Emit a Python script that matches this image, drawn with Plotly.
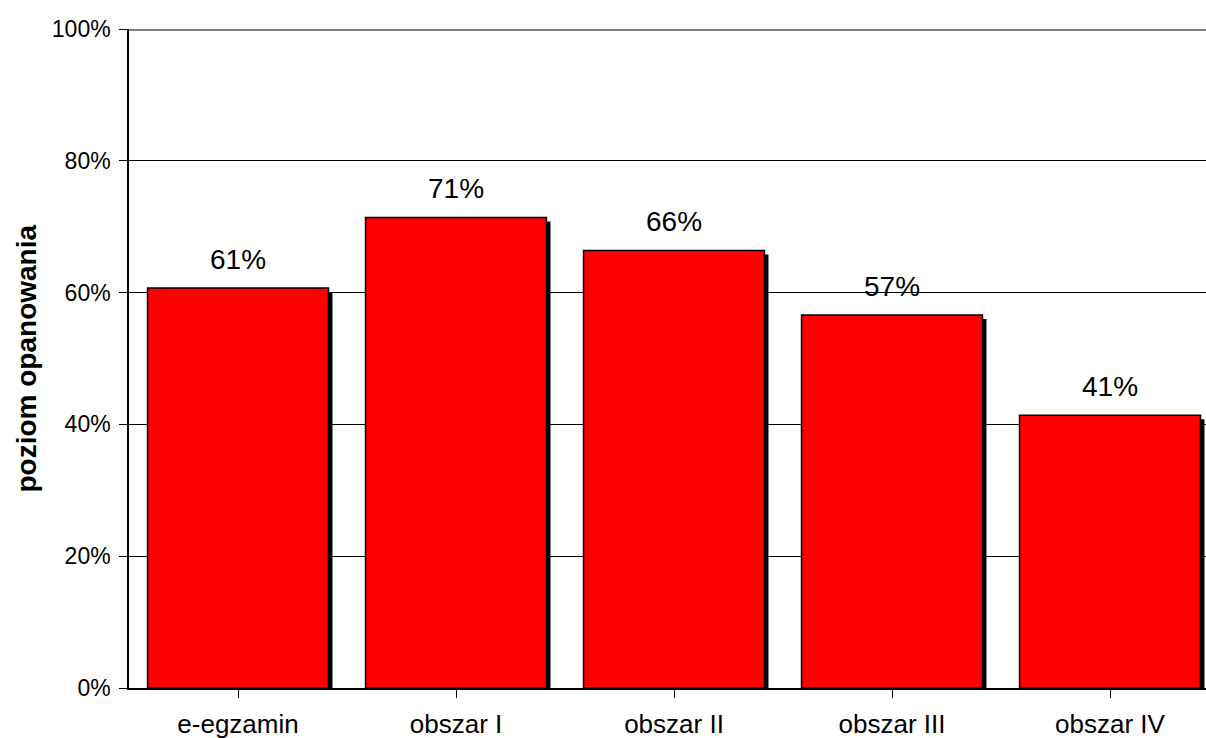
import plotly.graph_objects as go

categories = ["e-egzamin", "obszar I", "obszar II", "obszar III", "obszar IV"]
values = [60.7, 71.4, 66.4, 56.6, 41.4]
value_labels = ["61%", "71%", "66%", "57%", "41%"]
y_ticks = [0, 20, 40, 60, 80, 100]
y_tick_labels = ["0%", "20%", "40%", "60%", "80%", "100%"]

FONT = "Arial, Liberation Sans, sans-serif"
W = 0.83
px_per_cat = 218.0
px_per_pct = 6.59
shadow_dx = 4 / px_per_cat
shadow_dy = 4 / px_per_pct

fig = go.Figure()
# shadow bars
fig.add_trace(go.Bar(
    x=list(range(len(categories))), y=[v - shadow_dy for v in values],
    width=W, offset=-W / 2 + shadow_dx,
    marker=dict(color="black", line=dict(width=0)),
    hoverinfo="skip", showlegend=False,
))
# main bars
fig.add_trace(go.Bar(
    x=list(range(len(categories))), y=values,
    width=W, offset=-W / 2,
    marker=dict(color="#ff0000", line=dict(color="black", width=1.5)),
    showlegend=False,
))

for i, (v, lab) in enumerate(zip(values, value_labels)):
    fig.add_annotation(x=i, y=v, text=lab, showarrow=False, yanchor="bottom",
                       yshift=11, font=dict(family=FONT, size=28, color="black"))

fig.add_annotation(xref="paper", yref="paper", x=0, y=0.5, xshift=-103,
                   xanchor="center", yanchor="middle",
                   text="<b>poziom opanowania</b>", textangle=-90, showarrow=False,
                   font=dict(family=FONT, size=28, color="black"))

fig.add_shape(type="line", xref="paper", yref="y", x0=0, x1=1, y0=100, y1=100,
              line=dict(color="#808080", width=4), layer="above")

fig.update_layout(
    width=1206, height=738,
    margin=dict(l=129, r=0, t=29, b=50),
    paper_bgcolor="white", plot_bgcolor="white",
    barmode="overlay",
    xaxis=dict(
        range=[-0.5, -0.5 + 1077 / px_per_cat],
        tickmode="array", tickvals=list(range(len(categories))), ticktext=categories,
        tickson="boundaries", ticks="outside", ticklen=8, tickcolor="black", tickwidth=1,
        showgrid=False, showline=True, linecolor="black", linewidth=1.5,
        tickfont=dict(family=FONT, size=26, color="black"),
        ticklabelstandoff=4, automargin=False,
        zeroline=False,
    ),
    yaxis=dict(
        range=[0, 100], tickmode="array", tickvals=y_ticks, ticktext=y_tick_labels,
        ticks="outside", ticklen=8, tickcolor="black", tickwidth=1,
        showgrid=True, gridcolor="black", gridwidth=1,
        showline=True, linecolor="black", linewidth=1.5,
        tickfont=dict(family=FONT, size=23, color="black"),
        ticklabelstandoff=4, automargin=False,
        zeroline=False,
    ),
)

fig.write_html("out.html")
